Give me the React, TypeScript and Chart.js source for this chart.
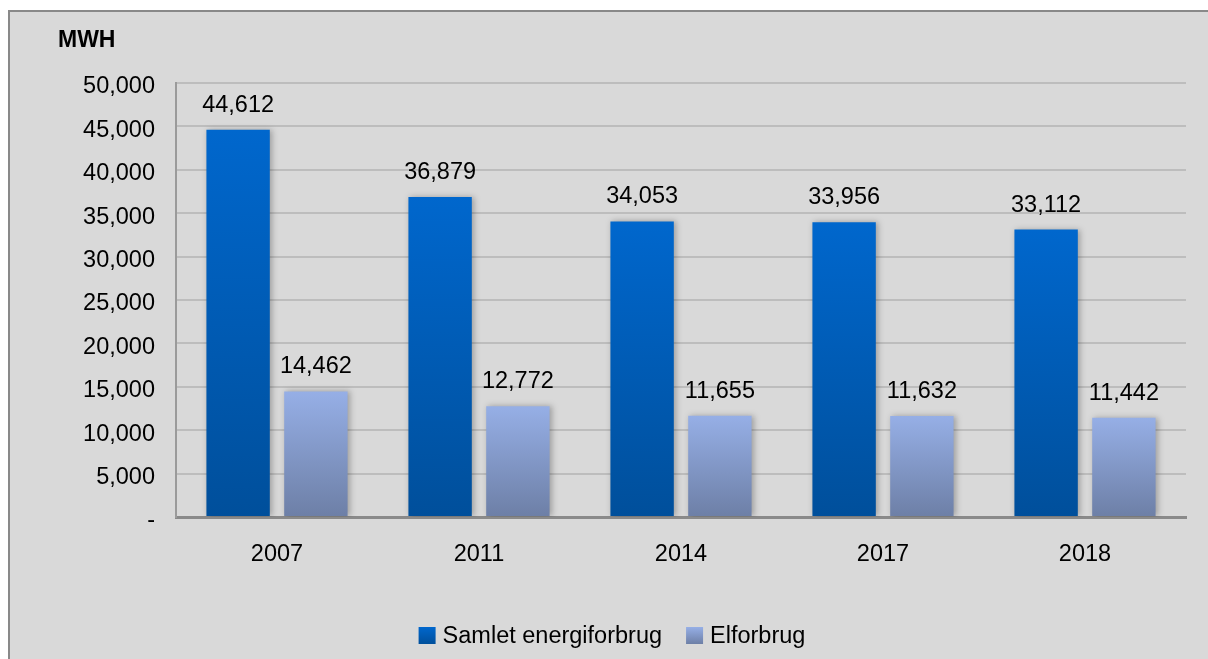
import React, { useEffect, useRef } from "react";
import { Chart, registerables } from "chart.js";

Chart.register(...registerables);

const categories = ["2007", "2011", "2014", "2017", "2018"];
const samletValues = [44612, 36879, 34053, 33956, 33112];
const elValues = [14462, 12772, 11655, 11632, 11442];
const seriesLabels = ["Samlet energiforbrug", "Elforbrug"];
const axisTitle = "MWH";

const FONT = '"Liberation Sans", Arial, sans-serif';
const darkStops = ["#0067cd", "#004f9b"];
const lightStops = ["#96afe6", "#6d7fa6"];

function fmt(v: number): string {
  return v === 0 ? "-" : v.toLocaleString("en-US");
}

function gradientFill(stops: string[]) {
  return (ctx: any) => {
    const chart = ctx.chart;
    const scales = chart.scales;
    if (!chart.chartArea || !scales || !scales.y || ctx.type !== "data") return stops[0];
    const v = ctx.raw as number;
    const top = scales.y.getPixelForValue(v);
    const bottom = scales.y.getPixelForValue(0);
    const g = chart.ctx.createLinearGradient(0, top, 0, bottom);
    g.addColorStop(0, stops[0]);
    g.addColorStop(1, stops[1]);
    return g;
  };
}

const shadowPlugin = {
  id: "barShadow",
  beforeDatasetsDraw(chart: any) {
    const c = chart.ctx;
    c.save();
    c.shadowColor = "rgba(0,0,0,0.28)";
    c.shadowBlur = 6;
    c.shadowOffsetX = 2;
    c.shadowOffsetY = 0;
  },
  afterDatasetsDraw(chart: any) {
    chart.ctx.restore();
  },
};

const textPlugin = {
  id: "texts",
  afterDraw(chart: any) {
    const c = chart.ctx;
    c.save();
    // value labels
    c.fillStyle = "#000";
    c.font = `23.5px ${FONT}`;
    c.textAlign = "center";
    c.textBaseline = "alphabetic";
    chart.data.datasets.forEach((ds: any, i: number) => {
      const meta = chart.getDatasetMeta(i);
      meta.data.forEach((bar: any, j: number) => {
        c.fillText(fmt(ds.data[j]), bar.x, bar.y - 18);
      });
    });
    // axis title
    c.font = `bold 23px ${FONT}`;
    c.textAlign = "left";
    c.fillText(axisTitle, 58, 46.5);
    // legend
    c.font = `23.5px ${FONT}`;
    const box = 17;
    const gapText = 7;
    const gapItem = 24;
    const widths = seriesLabels.map((l) => c.measureText(l).width);
    const total = widths.reduce((a, w) => a + box + gapText + w, 0) + gapItem * (seriesLabels.length - 1);
    let x = 612 - total / 2;
    const boxTop = 627;
    const stopsList = [darkStops, lightStops];
    seriesLabels.forEach((l, i) => {
      const g = c.createLinearGradient(0, boxTop, 0, boxTop + box);
      g.addColorStop(0, stopsList[i][0]);
      g.addColorStop(1, stopsList[i][1]);
      c.fillStyle = g;
      c.fillRect(x, boxTop, box, box);
      c.fillStyle = "#000";
      c.fillText(l, x + box + gapText, 643);
      x += box + gapText + widths[i] + gapItem;
    });
    c.restore();
  },
};

export default function App() {
  const ref = useRef<HTMLCanvasElement | null>(null);

  useEffect(() => {
    if (!ref.current) return;
    const chart = new Chart(ref.current, {
      type: "bar",
      data: {
        labels: categories,
        datasets: [
          {
            label: seriesLabels[0],
            data: samletValues,
            backgroundColor: gradientFill(darkStops),
            categoryPercentage: 0.77,
            barPercentage: 0.815,
          },
          {
            label: seriesLabels[1],
            data: elValues,
            backgroundColor: gradientFill(lightStops),
            categoryPercentage: 0.77,
            barPercentage: 0.815,
          },
        ],
      },
      options: {
        animation: false,
        responsive: false,
        maintainAspectRatio: false,
        layout: { padding: { top: 83, left: 0, right: 22, bottom: 0 } },
        plugins: {
          legend: { display: false },
          tooltip: { enabled: false },
          title: { display: false },
        },
        scales: {
          x: {
            grid: { display: false, drawTicks: false },
            border: { display: true, color: "#8a8a8a", width: 3 },
            ticks: {
              color: "#000",
              font: { family: FONT, size: 23.5 },
              padding: 23,
            },
            afterFit: (axis: any) => {
              axis.height = 142;
            },
          },
          y: {
            min: 0,
            max: 50000,
            grid: { color: "#bdbdbd", lineWidth: 2, drawTicks: false },
            border: { display: true, color: "#9a9a9a", width: 2 },
            ticks: {
              stepSize: 5000,
              color: "#000",
              font: { family: FONT, size: 23.5 },
              padding: 21,
              labelOffset: 4,
              callback: (v: any) => fmt(Number(v)),
            },
            afterFit: (axis: any) => {
              axis.width = 176;
            },
          },
        },
      },
      plugins: [shadowPlugin, textPlugin],
    });
    return () => chart.destroy();
  }, []);

  return (
    <div style={{ position: "fixed", left: 0, top: 0, width: 1208, height: 659, background: "#fff", overflow: "hidden" }}>
      <div
        style={{
          position: "absolute",
          left: 8,
          top: 10,
          right: -10,
          bottom: -10,
          background: "#d9d9d9",
          borderLeft: "2px solid #898989",
          borderTop: "2px solid #898989",
        }}
      />
      <canvas ref={ref} width={1208} height={659} style={{ position: "absolute", left: 0, top: 0, width: 1208, height: 659 }} />
    </div>
  );
}
